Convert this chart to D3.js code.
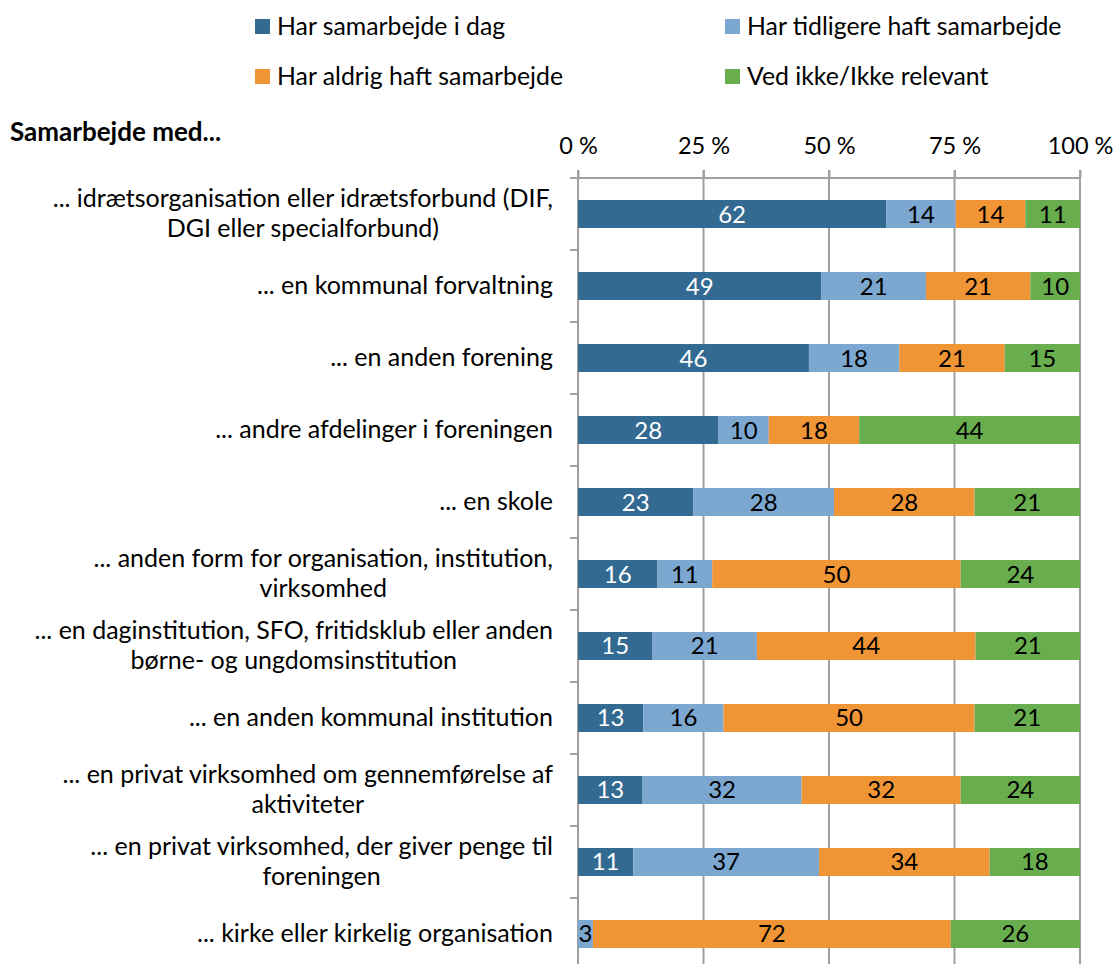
<!DOCTYPE html>
<html>
<head>
<meta charset="utf-8">
<script src="https://cdn.jsdelivr.net/npm/d3@7"></script>
<style>
  html, body { margin: 0; padding: 0; background: #fff; }
  svg { display: block; font-family: Lato, "Open Sans", sans-serif; }
</style>
</head>
<body>
<svg id="chart" width="1115" height="964"></svg>
<script>
// Survey answers per partner type (percent, rounded)
const categories = [
  ["... idrætsorganisation eller idrætsforbund (DIF,", "DGI eller specialforbund)"],
  ["... en kommunal forvaltning"],
  ["... en anden forening"],
  ["... andre afdelinger i foreningen"],
  ["... en skole"],
  ["... anden form for organisation, institution,", "virksomhed"],
  ["... en daginstitution, SFO, fritidsklub eller anden", "børne- og ungdomsinstitution"],
  ["... en anden kommunal institution"],
  ["... en privat virksomhed om gennemførelse af", "aktiviteter"],
  ["... en privat virksomhed, der giver penge til", "foreningen"],
  ["... kirke eller kirkelig organisation"]
];
const seriesNames = ["Har samarbejde i dag", "Har tidligere haft samarbejde", "Har aldrig haft samarbejde", "Ved ikke/Ikke relevant"];
const samarbejdeIDag   = [62, 49, 46, 28, 23, 16, 15, 13, 13, 11, 0];
const tidligere        = [14, 21, 18, 10, 28, 11, 21, 16, 32, 37, 3];
const aldrig           = [14, 21, 21, 18, 28, 50, 44, 50, 32, 34, 72];
const vedIkke          = [11, 10, 15, 44, 21, 24, 21, 21, 24, 18, 26];
const tickValues = [0, 0.25, 0.5, 0.75, 1];
const tickLabels = ["0 %", "25 %", "50 %", "75 %", "100 %"];
const heading = "Samarbejde med...";

const colors = ["#336a91", "#7ba7d0", "#f09535", "#68ad4e"];
const textColors = ["#ffffff", "#000000", "#000000", "#000000"];

const keys = ["s0", "s1", "s2", "s3"];
const rows = categories.map((c, i) => ({
  id: i, lines: c,
  s0: samarbejdeIDag[i], s1: tidligere[i], s2: aldrig[i], s3: vedIkke[i]
}));

const svg = d3.select("#chart");
const plotLeft = 578, plotRight = 1080, plotTop = 178, rowStep = 72;

const x = d3.scaleLinear().domain([0, 1]).range([plotLeft, plotRight]);
const y = d3.scaleBand()
  .domain(rows.map(d => d.id))
  .range([plotTop, plotTop + rowStep * rows.length])
  .paddingInner(0.6111)
  .paddingOuter(0.3056);

const stack = d3.stack().keys(keys).offset(d3.stackOffsetExpand);
const layers = stack(rows);

const gridColor = "#a0a0a0";

// vertical gridlines
svg.append("g").selectAll("line")
  .data(tickValues.slice(1))
  .join("line")
  .attr("x1", d => x(d)).attr("x2", d => x(d))
  .attr("y1", plotTop - 8).attr("y2", 964)
  .attr("stroke", gridColor).attr("stroke-width", 2);

// top axis
const xAxis = svg.append("g")
  .attr("transform", `translate(0,${plotTop})`)
  .call(d3.axisTop(x).tickValues(tickValues).tickFormat((d, i) => tickLabels[i]).tickSizeInner(8).tickSizeOuter(0).tickPadding(16));
xAxis.select(".domain").remove();
xAxis.selectAll(".tick line").attr("stroke", gridColor).attr("stroke-width", 2);
xAxis.selectAll(".tick text").attr("font-size", 23.5).attr("fill", "#000").attr("font-family", "Lato, sans-serif");
svg.append("line")
  .attr("x1", plotLeft - 8).attr("x2", plotRight + 1)
  .attr("y1", plotTop).attr("y2", plotTop)
  .attr("stroke", gridColor).attr("stroke-width", 2);

// left axis with band boundary ticks
svg.append("line")
  .attr("x1", plotLeft).attr("x2", plotLeft)
  .attr("y1", plotTop - 8).attr("y2", 964)
  .attr("stroke", gridColor).attr("stroke-width", 2);
svg.append("g").selectAll("line")
  .data(rows.slice(1))
  .join("line")
  .attr("x1", plotLeft - 8).attr("x2", plotLeft)
  .attr("y1", d => y(d.id) - y.step() * y.paddingInner() / 2)
  .attr("y2", d => y(d.id) - y.step() * y.paddingInner() / 2)
  .attr("stroke", gridColor).attr("stroke-width", 2);

// bars
const layerG = svg.append("g").selectAll("g")
  .data(layers)
  .join("g")
  .attr("fill", (d, i) => colors[i]);

layerG.selectAll("rect")
  .data(d => d)
  .join("rect")
  .attr("x", d => x(d[0]))
  .attr("y", d => y(d.data.id))
  .attr("width", d => x(d[1]) - x(d[0]))
  .attr("height", y.bandwidth());

// value labels
layers.forEach((layer, li) => {
  svg.append("g").selectAll("text")
    .data(layer.filter(d => d.data[keys[li]] > 0))
    .join("text")
    .attr("x", d => (x(d[0]) + x(d[1])) / 2)
    .attr("y", d => y(d.data.id) + y.bandwidth() / 2 + 8.5)
    .attr("text-anchor", "middle")
    .attr("font-size", 24)
    .attr("fill", textColors[li])
    .text(d => d.data[keys[li]]);
});

// category labels (wrapped lines centred on the first line)
const labelRight = 553, lineGap = 30, fs = 25;
const labelG = svg.append("g").attr("font-size", fs).attr("fill", "#000");
rows.forEach(r => {
  const cy = y(r.id) + y.bandwidth() / 2;
  const n = r.lines.length;
  const first = labelG.append("text")
    .attr("x", labelRight)
    .attr("y", cy - (n - 1) * lineGap / 2 + 8)
    .attr("text-anchor", "end")
    .text(r.lines[0]);
  if (n > 1) {
    const w = first.node().getComputedTextLength();
    const cx = labelRight - w / 2;
    for (let k = 1; k < n; k++) {
      labelG.append("text")
        .attr("x", cx)
        .attr("y", cy - (n - 1) * lineGap / 2 + k * lineGap + 8)
        .attr("text-anchor", "middle")
        .text(r.lines[k]);
    }
  }
});

// heading
svg.append("text")
  .attr("x", 10).attr("y", 141)
  .attr("font-size", 26).attr("font-weight", "bold")
  .text(heading);

// legend
const legendPos = [[255, 19], [725, 19], [255, 69], [725, 69]];
const legend = svg.append("g").selectAll("g")
  .data(seriesNames)
  .join("g")
  .attr("transform", (d, i) => `translate(${legendPos[i][0]},${legendPos[i][1]})`);
legend.append("rect").attr("width", 15).attr("height", 15).attr("fill", (d, i) => colors[i]);
legend.append("text").attr("x", 22).attr("y", 16).attr("font-size", 24.8).text(d => d);
</script>
</body>
</html>
